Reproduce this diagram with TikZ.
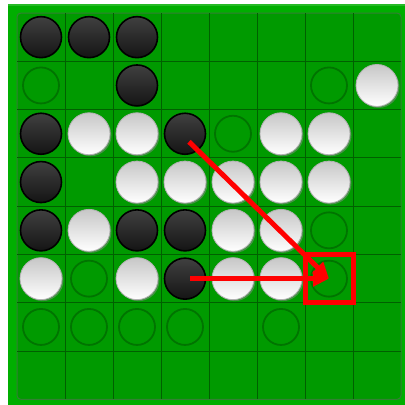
\documentclass[tikz,border=0pt]{standalone}
\usetikzlibrary{arrows.meta}
\definecolor{framecol}{HTML}{00AE00}
\definecolor{boardcol}{HTML}{009A00}
\definecolor{gridcol}{HTML}{006000}
\definecolor{hintcol}{HTML}{007400}
\definecolor{redcol}{HTML}{FF0000}
\begin{document}
\begin{tikzpicture}[x=1pt,y=-1pt,
  blackpiece/.style={circle,inner sep=0pt,minimum size=41pt,draw=black,line width=1.6pt,
    top color=black!75,bottom color=black!92},
  whitepiece/.style={circle,inner sep=0pt,minimum size=42pt,draw=black!30,line width=0.8pt,
    top color=black!22,bottom color=white},
  shadowpiece/.style={circle,inner sep=0pt,minimum size=42pt,fill=black!45,opacity=0.5},
  hintpiece/.style={circle,inner sep=0pt,minimum size=36pt,draw=hintcol,line width=1.8pt},
  movebox/.style={rectangle,inner sep=0pt,minimum width=48pt,minimum height=48.3pt,draw=redcol,line width=5pt},
  movearrow/.style={draw=redcol,line width=5pt,-{Triangle[length=16pt,width=15pt]}}]
\useasboundingbox (0,0) rectangle (405,405);
% frame
\fill[framecol] (8,4) rectangle (405,405);
\fill[framecol!85!white] (8,4) rectangle (405,5.5);
% board
\filldraw[fill=boardcol,draw=gridcol!80,line width=1pt,rounded corners=4pt] (17,13) rectangle (401,399.4);
\foreach \k in {1,...,7} {
  \draw[gridcol,line width=1pt] ({17+48*\k},13) -- ({17+48*\k},399.4);
  \draw[gridcol,line width=1pt] (17,{13+48.3*\k}) -- (401,{13+48.3*\k});
}
% hints
\foreach \r/\c in {2/1,2/7,3/5,5/7,6/2,6/7,7/1,7/2,7/3,7/4,7/6}
  \node[hintpiece] (h-\r-\c) at ({41+48*(\c-1)},{37.15+48.3*(\r-1)}) {};
% black pieces
\foreach \r/\c in {1/1,1/2,1/3,2/3,3/1,3/4,4/1,5/1,5/3,5/4,6/4}
  \node[blackpiece] (b-\r-\c) at ({41+48*(\c-1)},{37.15+48.3*(\r-1)}) {};
% white pieces
\foreach \r/\c in {2/8,3/2,3/3,3/6,3/7,4/3,4/4,4/5,4/6,4/7,5/2,5/5,5/6,6/1,6/3,6/5,6/6} {
  \node[shadowpiece] at ({41+48*(\c-1)+1.5},{37.15+48.3*(\r-1)+1.5}) {};
  \node[whitepiece] (w-\r-\c) at ({41+48*(\c-1)},{37.15+48.3*(\r-1)}) {};
}
% move marker
\node[movebox] (sq) at (h-6-7) {};
\coordinate (s1) at ([shift={(4,8)}]b-3-4.center);
\coordinate (s2) at ([shift={(5,0)}]b-6-4.center);
\draw[movearrow] (s1) -- (h-6-7.center);
\draw[movearrow] (s2) -- (h-6-7.center);
\end{tikzpicture}
\end{document}
